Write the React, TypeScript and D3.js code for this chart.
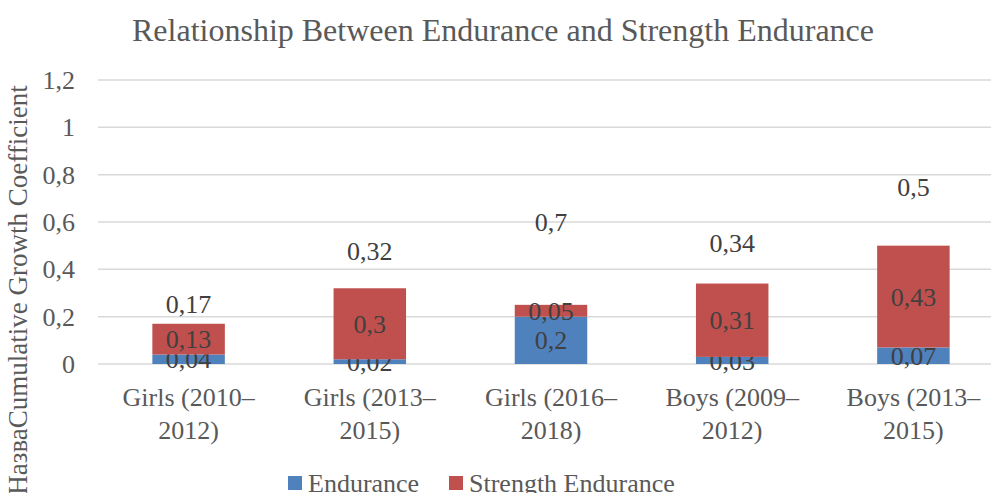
import * as d3 from "d3";

const categories = [
  ["Girls (2010–", "2012)"],
  ["Girls (2013–", "2015)"],
  ["Girls (2016–", "2018)"],
  ["Boys (2009–", "2012)"],
  ["Boys (2013–", "2015)"],
];
const endurance = [0.04, 0.02, 0.2, 0.03, 0.07];
const strengthEndurance = [0.13, 0.3, 0.05, 0.31, 0.43];
// hidden "total" series stacked on top, only its labels show
const totals = [0.17, 0.32, 0.7, 0.34, 0.5];
const yTicks = [0, 0.2, 0.4, 0.6, 0.8, 1, 1.2];

const W = 991;
const H = 493;
const fmt = (v: number) => String(+v.toFixed(2)).replace(".", ",");
const font = "Liberation Serif, Times New Roman, DejaVu Serif, serif";

export default function App() {
  const x = d3
    .scaleBand<number>()
    .domain(categories.map((_, i) => i))
    .range([98, 1004])
    .paddingInner(0.6)
    .paddingOuter(0.3);
  const y = d3.scaleLinear().domain([0, 1.2]).range([364, 80]);

  const rows = categories.map((_, i) => ({
    i,
    endurance: endurance[i],
    strength: strengthEndurance[i],
    total: totals[i],
  }));
  const stack = d3.stack<(typeof rows)[0]>().keys(["endurance", "strength", "total"]);
  const series = stack(rows as any);
  const colors = ["#4f81bd", "#c0504d", "none"];

  return (
    <svg
      width={W}
      height={H}
      style={{ position: "fixed", left: 0, top: 0, background: "#fff", fontFamily: font }}
    >
      <text x={503} y={41} textAnchor="middle" fontSize={32} fill="#595959">
        Relationship Between Endurance and Strength Endurance
      </text>

      {yTicks.map((t) => (
        <g key={t}>
          <line x1={98} x2={W} y1={y(t)} y2={y(t)} stroke="#d9d9d9" strokeWidth={1.5} />
          <text x={75} y={y(t)} dy="0.35em" textAnchor="end" fontSize={26} fill="#595959">
            {fmt(t)}
          </text>
        </g>
      ))}

      <text
        transform={`translate(18,290) rotate(-90)`}
        textAnchor="middle"
        dy="0.35em"
        fontSize={27}
        fill="#595959"
      >
        НазваCumulative Growth Coefficient
      </text>

      {series.map((s, k) =>
        s.map((d, i) => {
          const x0 = x(i)!;
          const top = y(d[1]);
          const bottom = y(d[0]);
          const cy = (top + bottom) / 2;
          const label = k === 0 ? endurance[i] : k === 1 ? strengthEndurance[i] : totals[i];
          return (
            <g key={`${k}-${i}`}>
              {colors[k] !== "none" && (
                <rect
                  x={x0}
                  y={top}
                  width={x.bandwidth()}
                  height={bottom - top}
                  fill={colors[k]}
                />
              )}
              <text
                x={x0 + x.bandwidth() / 2}
                y={k === 2 ? y(d[0] + label / 2) : cy}
                dy="0.35em"
                textAnchor="middle"
                fontSize={26}
                fill="#404040"
              >
                {fmt(label)}
              </text>
            </g>
          );
        })
      )}

      {categories.map((lines, i) => (
        <text
          key={i}
          x={x(i)! + x.bandwidth() / 2}
          y={397}
          textAnchor="middle"
          fontSize={26}
          fill="#595959"
        >
          {lines.map((l, j) => (
            <tspan key={j} x={x(i)! + x.bandwidth() / 2} dy={j === 0 ? "0.35em" : 33}>
              {l}
            </tspan>
          ))}
        </text>
      ))}

      <g fontSize={26} fill="#595959">
        <rect x={288} y={476} width={14} height={14} fill="#4f81bd" />
        <text x={308} y={483} dy="0.35em">Endurance</text>
        <rect x={449} y={476} width={14} height={14} fill="#c0504d" />
        <text x={469} y={483} dy="0.35em">Strength Endurance</text>
      </g>
    </svg>
  );
}
